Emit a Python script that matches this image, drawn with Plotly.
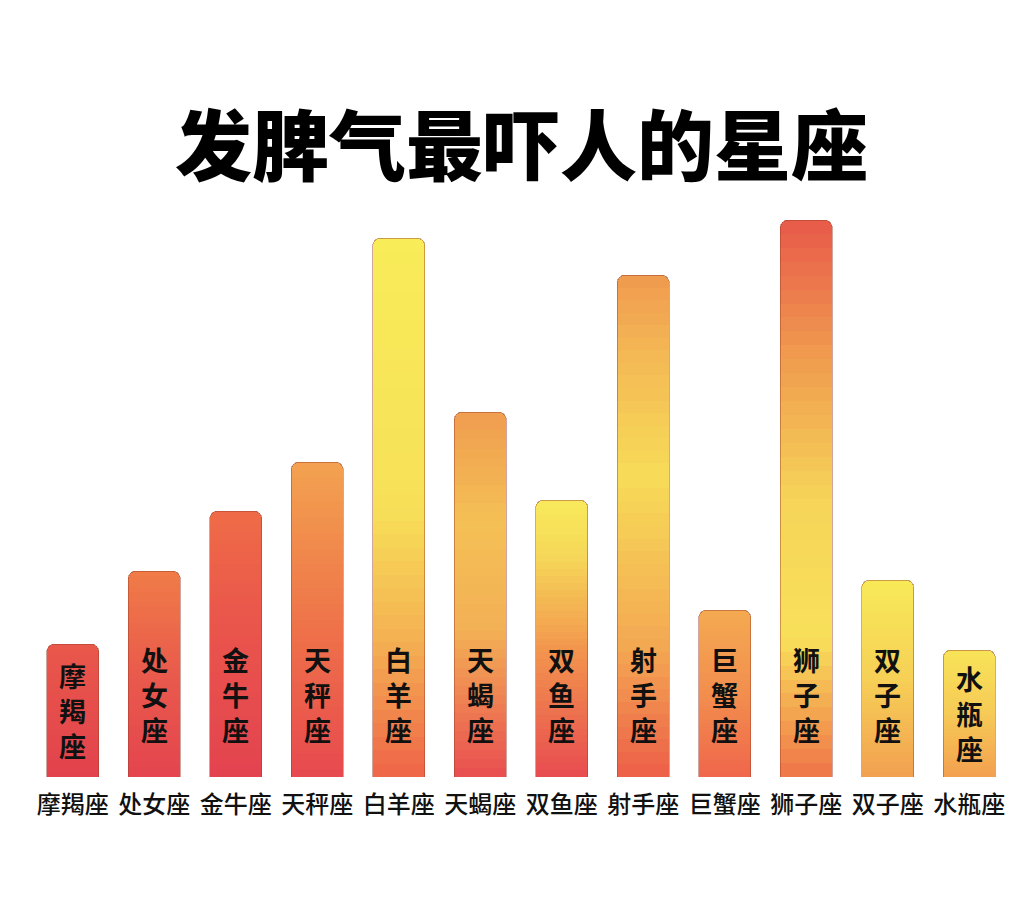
import plotly.graph_objects as go

# ---- data ----
signs = ["摩羯座", "处女座", "金牛座", "天秤座", "白羊座", "天蝎座",
         "双鱼座", "射手座", "巨蟹座", "狮子座", "双子座", "水瓶座"]
values = [133, 206, 266, 315, 539, 365, 277, 502, 167, 557, 197, 127]

# ---- styles: per-bar vertical gradient stops (fraction, colour) bottom -> top ----
gradients = [
    [(0, "#e2424c"), (1, "#e9584b")],
    [(0, "#e4444f"), (0.5, "#e95a4c"), (1, "#f07c47")],
    [(0, "#e3434f"), (0.6, "#ea564b"), (1, "#ef6c47")],
    [(0, "#e7494e"), (0.45, "#ee7049"), (1, "#f3a250")],
    [(0, "#ef6448"), (0.25, "#f4b052"), (0.5, "#f7e058"), (1, "#f8ec58")],
    [(0, "#e94d50"), (0.4, "#f3b055"), (0.7, "#f4c055"), (1, "#f09c4f")],
    [(0, "#e84c50"), (0.45, "#f2944e"), (0.8, "#f6d858"), (1, "#f8ea5c")],
    [(0, "#ed5e49"), (0.25, "#f3a652"), (0.6, "#f7dc58"), (0.85, "#f4b654"), (1, "#f09a4f")],
    [(0, "#f0664b"), (0.5, "#f28e4e"), (1, "#f4aa51")],
    [(0, "#f07448"), (0.25, "#f8e05a"), (0.5, "#f6d458"), (0.75, "#f09c4f"), (1, "#e8594a")],
    [(0, "#f2a050"), (0.5, "#f6d056"), (1, "#f8ea58")],
    [(0, "#f3a050"), (0.5, "#f6ca56"), (1, "#f8e458")],
]

N_SEG = 40


def hex2rgb(h):
    h = h.lstrip("#")
    return tuple(int(h[i:i + 2], 16) for i in (0, 2, 4))


def interp(stops, f):
    for (f0, c0), (f1, c1) in zip(stops[:-1], stops[1:]):
        if f0 <= f <= f1:
            t = 0 if f1 == f0 else (f - f0) / (f1 - f0)
            a, b = hex2rgb(c0), hex2rgb(c1)
            return "rgb(%d,%d,%d)" % tuple(round(a[i] + (b[i] - a[i]) * t) for i in range(3))
    return stops[-1][1]


fig = go.Figure()
for k in range(N_SEG):
    frac = (k + 0.5) / N_SEG
    fig.add_trace(go.Bar(
        x=signs,
        y=[v / N_SEG for v in values],
        marker=dict(color=[interp(g, frac) for g in gradients], line=dict(width=0)),
        hoverinfo="skip",
        showlegend=False,
    ))

# thin outline over each bar
fig.add_trace(go.Bar(
    x=signs, y=values, xaxis="x2",
    marker=dict(color="rgba(0,0,0,0)", line=dict(color="rgba(150,60,40,0.45)", width=1)),
    hoverinfo="skip", showlegend=False,
))

# vertical text inside the bars
for s, v in zip(signs, values):
    fig.add_annotation(
        x=s, y=min(v / 2, 83), xref="x", yref="y",
        text="<br>".join(list(s)), showarrow=False,
        font=dict(family="Noto Sans CJK SC", size=27, color="#111111", weight=700),
        yanchor="middle", xanchor="center",
    )

fig.update_layout(
    width=1027, height=904,
    margin=dict(l=24, r=25, t=169, b=135),
    paper_bgcolor="#ffffff", plot_bgcolor="#ffffff",
    barmode="stack", bargap=0.36, barcornerradius=8,
    title=dict(
        text="发脾气最吓人的星座", x=0.5, xanchor="center",
        y=1 - 140 / 904, yanchor="middle", yref="container",
        font=dict(family="Noto Sans CJK SC", size=77, color="#000000", weight=900),
    ),
    xaxis=dict(
        showgrid=False, zeroline=False, showline=False, ticks="",
        tickfont=dict(family="Noto Sans CJK SC", size=24, color="#111111", weight=500),
        ticklabelstandoff=11,
    ),
    xaxis2=dict(overlaying="x", matches="x", visible=False),
    yaxis=dict(range=[0, 600], visible=False),
)

fig.write_html("out.html")
